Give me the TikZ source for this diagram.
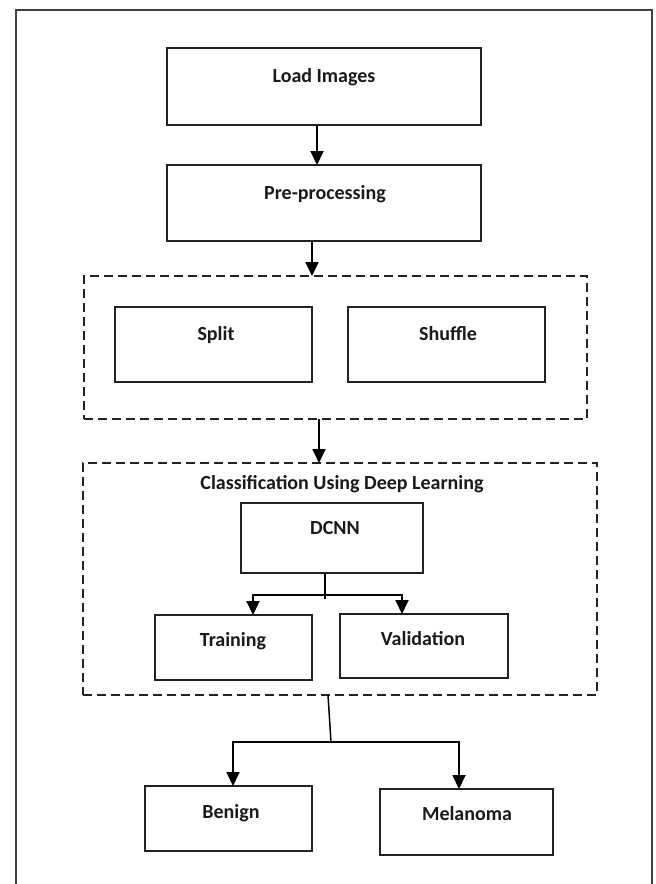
\documentclass[tikz,border=0pt]{standalone}
\usepackage{fontspec}
\setmainfont{Carlito}
\usetikzlibrary{arrows.meta}
\definecolor{linec}{HTML}{222222}
\definecolor{framec}{HTML}{404040}
\definecolor{textc}{HTML}{1A1A1A}
\begin{document}
\begin{tikzpicture}[x=1pt,y=-1pt,
  box/.style={draw=linec, line width=1.8pt, inner sep=0pt, outer sep=0pt},
  dbox/.style={draw=linec, line width=1.8pt, dash pattern=on 9pt off 5pt, inner sep=0pt, outer sep=0pt},
  lbl/.style={font=\fontsize{20}{24}\selectfont\bfseries, text=textc, inner sep=0pt, anchor=base},
  arr/.style={draw=black, line width=1.8pt, -{Triangle[length=14pt,width=13pt]}},
  conn/.style={draw=black, line width=1.5pt},
  frame/.style={draw=framec, line width=1.8pt}
]
\useasboundingbox (0,0) rectangle (656,884);
\fill[white] (0,0) rectangle (656,884);

% outer frame (open at the bottom)
\draw[frame] (16,884) -- (16,10) -- (652,10) -- (652,884);

% boxes
\node[box, minimum width=314pt, minimum height=77pt] (load) at (324,86.5) {};
\node[box, minimum width=314pt, minimum height=76pt] (pre) at (324,203) {};
\node[dbox, minimum width=503pt, minimum height=143pt] (d1) at (335.5,347.5) {};
\node[box, minimum width=197pt, minimum height=75pt] (split) at (213.5,344.5) {};
\node[box, minimum width=197pt, minimum height=75pt] (shuffle) at (446.5,344.5) {};
\node[dbox, minimum width=514pt, minimum height=232pt] (d2) at (340,579) {};
\node[box, minimum width=182pt, minimum height=70pt] (dcnn) at (332,538) {};
\node[box, minimum width=157pt, minimum height=65pt] (train) at (233.5,647.5) {};
\node[box, minimum width=168pt, minimum height=64pt] (val) at (424,646) {};
\node[box, minimum width=167pt, minimum height=65pt] (ben) at (228.5,818.5) {};
\node[box, minimum width=173pt, minimum height=66pt] (mel) at (466.5,822) {};

% labels
\node[lbl] (loadT) at (324,82.5) {Load Images};
\node[lbl] (preT) at (325,199.5) {Pre-processing};
\node[lbl] (splitT) at (216,340.5) {Split};
\node[lbl] (shuffleT) at (448,340.5) {Shuffle};
\node[lbl] (d2T) at (342,489.5) {Classification Using Deep Learning};
\node[lbl] (dcnnT) at (335,534.5) {DCNN};
\node[lbl] (trainT) at (233,646.5) {Training};
\node[lbl] (valT) at (423,645.5) {Validation};
\node[lbl] (benT) at (231,818.5) {Benign};
\node[lbl] (melT) at (467,820.5) {Melanoma};

% connectors
\draw[arr] ([xshift=-7pt]load.south) -- ([xshift=-7pt]load.south |- pre.north);
\draw[arr] ([xshift=-12pt]pre.south) -- ([xshift=-12pt]pre.south |- d1.north);
\draw[arr] ([xshift=-16.5pt]d1.south) -- ([xshift=-16.5pt]d1.south |- d2.north);

\coordinate (j1) at (325,595);
\coordinate (j1e) at (325,599);
\coordinate (tl) at (253,595);
\coordinate (vl) at (402,595);
\draw[conn] (dcnn.south -| j1) -- (j1e);
\draw[arr] (j1) -- (tl) -- (tl |- train.north);
\draw[arr] (j1) -- (vl) -- (vl |- val.north);

\coordinate (j2t) at ([xshift=-12pt]d2.south);
\coordinate (j2) at (331,742);
\coordinate (bl) at (233,742);
\coordinate (ml) at (459,742);
\draw[conn] (j2t) -- (j2);
\draw[arr] (j2) -- (bl) -- (bl |- ben.north);
\draw[arr] (j2) -- (ml) -- (ml |- mel.north);
\end{tikzpicture}
\end{document}
